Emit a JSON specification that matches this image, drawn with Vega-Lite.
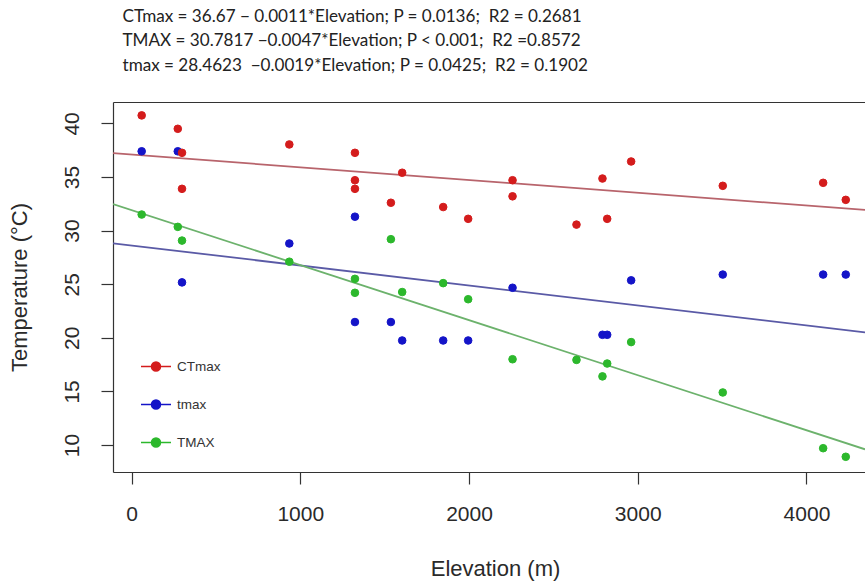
{
  "$schema": "https://vega.github.io/schema/vega-lite/v6.json",
  "width": 752,
  "height": 370,
  "autosize": {"type": "none"},
  "padding": {"left": 113, "top": 102, "right": 0, "bottom": 114},
  "background": "white",
  "config": {
    "view": {"stroke": null},
    "font": "Liberation Sans",
    "axis": {"grid": false, "domainColor": "#333333", "domainWidth": 1.2, "tickColor": "#333333", "tickWidth": 1.2, "labelColor": "#2a2a2a", "titleColor": "#2a2a2a", "labelFont": "Liberation Sans", "titleFont": "Liberation Sans", "titleFontWeight": "normal"}
  },
  "title": {
    "text": ["CTmax = 36.67 − 0.0011*Elevation; P = 0.0136;\u00a0 R2 = 0.2681", "TMAX = 30.7817 −0.0047*Elevation; P < 0.001;\u00a0 R2 =0.8572", "tmax = 28.4623 \u00a0−0.0019*Elevation; P = 0.0425;\u00a0 R2 = 0.1902"],
    "anchor": "start",
    "frame": "group",
    "font": "Lato",
    "fontSize": 17.1,
    "fontWeight": "normal",
    "color": "#222222",
    "lineHeight": 24.5,
    "dx": 9.5,
    "offset": 28
  },
  "datasets": {
    "fits": [
      {"Elevation": -110, "Temperature": 37.23, "Fit": "CTmax fit"},
      {"Elevation": 4347, "Temperature": 31.93, "Fit": "CTmax fit"},
      {"Elevation": -110, "Temperature": 28.82, "Fit": "tmax fit"},
      {"Elevation": 4347, "Temperature": 20.51, "Fit": "tmax fit"},
      {"Elevation": -110, "Temperature": 32.48, "Fit": "TMAX fit"},
      {"Elevation": 4347, "Temperature": 9.6, "Fit": "TMAX fit"}
    ],
    "obs": [
      {"Elevation": 60, "Temperature": 37.4, "Series": "tmax"},
      {"Elevation": 274, "Temperature": 37.4, "Series": "tmax"},
      {"Elevation": 299, "Temperature": 25.17, "Series": "tmax"},
      {"Elevation": 935, "Temperature": 28.8, "Series": "tmax"},
      {"Elevation": 1324, "Temperature": 31.3, "Series": "tmax"},
      {"Elevation": 1324, "Temperature": 21.47, "Series": "tmax"},
      {"Elevation": 1537, "Temperature": 21.47, "Series": "tmax"},
      {"Elevation": 1604, "Temperature": 19.75, "Series": "tmax"},
      {"Elevation": 1847, "Temperature": 19.75, "Series": "tmax"},
      {"Elevation": 1995, "Temperature": 19.75, "Series": "tmax"},
      {"Elevation": 2258, "Temperature": 24.67, "Series": "tmax"},
      {"Elevation": 2791, "Temperature": 20.28, "Series": "tmax"},
      {"Elevation": 2819, "Temperature": 20.28, "Series": "tmax"},
      {"Elevation": 2961, "Temperature": 25.36, "Series": "tmax"},
      {"Elevation": 3504, "Temperature": 25.9, "Series": "tmax"},
      {"Elevation": 4099, "Temperature": 25.9, "Series": "tmax"},
      {"Elevation": 4233, "Temperature": 25.9, "Series": "tmax"},
      {"Elevation": 60, "Temperature": 31.5, "Series": "TMAX"},
      {"Elevation": 274, "Temperature": 30.35, "Series": "TMAX"},
      {"Elevation": 299, "Temperature": 29.07, "Series": "TMAX"},
      {"Elevation": 935, "Temperature": 27.1, "Series": "TMAX"},
      {"Elevation": 1324, "Temperature": 25.5, "Series": "TMAX"},
      {"Elevation": 1324, "Temperature": 24.2, "Series": "TMAX"},
      {"Elevation": 1537, "Temperature": 29.2, "Series": "TMAX"},
      {"Elevation": 1604, "Temperature": 24.27, "Series": "TMAX"},
      {"Elevation": 1847, "Temperature": 25.1, "Series": "TMAX"},
      {"Elevation": 1995, "Temperature": 23.6, "Series": "TMAX"},
      {"Elevation": 2258, "Temperature": 18.0, "Series": "TMAX"},
      {"Elevation": 2637, "Temperature": 17.94, "Series": "TMAX"},
      {"Elevation": 2791, "Temperature": 16.4, "Series": "TMAX"},
      {"Elevation": 2819, "Temperature": 17.6, "Series": "TMAX"},
      {"Elevation": 2961, "Temperature": 19.6, "Series": "TMAX"},
      {"Elevation": 3504, "Temperature": 14.9, "Series": "TMAX"},
      {"Elevation": 4099, "Temperature": 9.7, "Series": "TMAX"},
      {"Elevation": 4233, "Temperature": 8.9, "Series": "TMAX"},
      {"Elevation": 60, "Temperature": 40.75, "Series": "CTmax"},
      {"Elevation": 274, "Temperature": 39.5, "Series": "CTmax"},
      {"Elevation": 299, "Temperature": 37.26, "Series": "CTmax"},
      {"Elevation": 299, "Temperature": 33.9, "Series": "CTmax"},
      {"Elevation": 935, "Temperature": 38.04, "Series": "CTmax"},
      {"Elevation": 1324, "Temperature": 37.26, "Series": "CTmax"},
      {"Elevation": 1324, "Temperature": 34.7, "Series": "CTmax"},
      {"Elevation": 1324, "Temperature": 33.9, "Series": "CTmax"},
      {"Elevation": 1537, "Temperature": 32.6, "Series": "CTmax"},
      {"Elevation": 1604, "Temperature": 35.4, "Series": "CTmax"},
      {"Elevation": 1847, "Temperature": 32.2, "Series": "CTmax"},
      {"Elevation": 1995, "Temperature": 31.1, "Series": "CTmax"},
      {"Elevation": 2258, "Temperature": 34.7, "Series": "CTmax"},
      {"Elevation": 2258, "Temperature": 33.2, "Series": "CTmax"},
      {"Elevation": 2637, "Temperature": 30.56, "Series": "CTmax"},
      {"Elevation": 2791, "Temperature": 34.86, "Series": "CTmax"},
      {"Elevation": 2819, "Temperature": 31.1, "Series": "CTmax"},
      {"Elevation": 2961, "Temperature": 36.45, "Series": "CTmax"},
      {"Elevation": 3504, "Temperature": 34.18, "Series": "CTmax"},
      {"Elevation": 4099, "Temperature": 34.46, "Series": "CTmax"},
      {"Elevation": 4233, "Temperature": 32.87, "Series": "CTmax"}
    ]
  },
  "resolve": {"axis": {"x": "independent"}},
  "layer": [
    {
      "data": {"name": "fits"},
      "mark": {"type": "line", "clip": true, "strokeWidth": 1.8},
      "encoding": {
        "x": {"field": "Elevation", "type": "quantitative", "scale": {"domain": [-110, 4347], "zero": false, "nice": false},
          "axis": {"orient": "top", "labels": false, "ticks": false, "title": null}},
        "y": {"field": "Temperature", "type": "quantitative", "scale": {"domain": [7.48, 42.0], "zero": false, "nice": false},
          "axis": {"values": [10, 15, 20, 25, 30, 35, 40], "tickSize": 12, "labelFontSize": 21, "labelAngle": 270, "labelAlign": "center", "labelBaseline": "bottom", "labelPadding": 19, "title": "Temperature (°C)", "titleFontSize": 22, "titleAngle": 270, "titleAlign": "center", "titleBaseline": "middle", "titleX": -94, "titleY": 185}},
        "color": {"field": "Fit", "type": "nominal", "scale": {"domain": ["CTmax fit", "tmax fit", "TMAX fit"], "range": ["#b8646c", "#5a5aa6", "#6cb26c"]}, "legend": null}
      }
    },
    {
      "data": {"name": "obs"},
      "mark": {"type": "point", "filled": true, "size": 58, "strokeWidth": 1, "opacity": 1},
      "encoding": {
        "x": {"field": "Elevation", "type": "quantitative", "scale": {"domain": [-110, 4347], "zero": false, "nice": false},
          "axis": {"orient": "bottom", "values": [0, 1000, 2000, 3000, 4000], "format": "d", "tickSize": 12, "labelFontSize": 21, "labelPadding": 19, "labelFlush": false, "title": "Elevation (m)", "titleFontSize": 22, "titleAlign": "center", "titleBaseline": "middle", "titleX": 382, "titleY": 96}},
        "y": {"field": "Temperature", "type": "quantitative", "scale": {"domain": [7.48, 42.0], "zero": false, "nice": false},
          "axis": {"values": [10, 15, 20, 25, 30, 35, 40], "tickSize": 12, "labelFontSize": 21, "labelAngle": 270, "labelAlign": "center", "labelBaseline": "bottom", "labelPadding": 19, "title": "Temperature (°C)", "titleFontSize": 22, "titleAngle": 270, "titleAlign": "center", "titleBaseline": "middle", "titleX": -94, "titleY": 185}},
        "fill": {"field": "Series", "type": "nominal", "scale": {"domain": ["CTmax", "tmax", "TMAX"], "range": ["#d41c1c", "#1414c8", "#2cb82c"]},
          "legend": {"title": null, "orient": "none", "legendX": 27, "legendY": 248.5, "padding": 0, "rowPadding": 14, "labelFontSize": 13.5, "labelColor": "#333333", "labelFont": "Liberation Sans", "labelOffset": 5, "symbolSize": 900,
            "symbolType": "M-1,0L1,0M0.3,0A0.3,0.3,0,1,1,-0.3,0A0.3,0.3,0,1,1,0.3,0Z", "symbolStrokeWidth": 1.5, "symbolOpacity": 1}},
        "stroke": {"field": "Series", "type": "nominal", "scale": {"domain": ["CTmax", "tmax", "TMAX"], "range": ["#d41c1c", "#1414c8", "#2cb82c"]},
          "legend": {"title": null, "orient": "none", "legendX": 27, "legendY": 248.5, "padding": 0, "rowPadding": 14, "labelFontSize": 13.5, "labelColor": "#333333", "labelFont": "Liberation Sans", "labelOffset": 5, "symbolSize": 900,
            "symbolType": "M-1,0L1,0M0.3,0A0.3,0.3,0,1,1,-0.3,0A0.3,0.3,0,1,1,0.3,0Z", "symbolStrokeWidth": 1.5, "symbolOpacity": 1}}
      }
    }
  ]
}
